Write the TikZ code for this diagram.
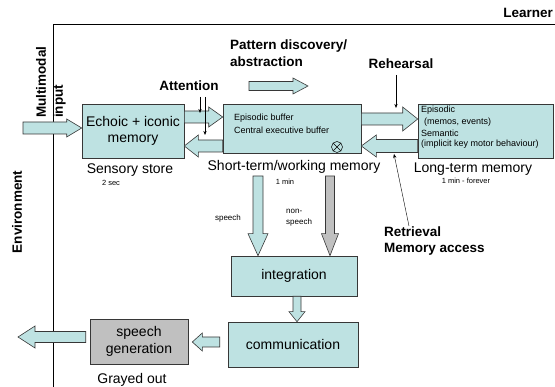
\documentclass[tikz,border=0pt]{standalone}
\usepackage{fontspec}
\setmainfont{Liberation Sans}
\usetikzlibrary{arrows.meta,calc}
\definecolor{cyanfill}{RGB}{190,226,226}
\definecolor{grayfill}{RGB}{192,192,192}
\definecolor{edgecol}{RGB}{55,55,55}
% block arrow: [fill] {from}{to}{half shaft}{half head}{head length}
\newcommand\blockarrow[6][cyanfill]{%
  \draw[edgecol, line width=0.6pt, fill=#1, line join=miter]
    let \p1=(#2), \p2=(#3), \n1={atan2(\y2-\y1,\x2-\x1)}, \n2={veclen(\x2-\x1,\y2-\y1)} in
    [shift={(\p1)}, rotate=\n1]
    (0pt,#4) -- ({\n2-#6},#4) -- ({\n2-#6},#5) -- (\n2,0pt) -- ({\n2-#6},-#5) -- ({\n2-#6},-#4) -- (0pt,-#4) -- cycle;
}
\tikzset{
  box/.style={draw=edgecol, line width=0.6pt, fill=cyanfill, inner sep=0pt, align=center, font=\fontsize{14}{16.5}\selectfont},
  lbl/.style={font=\fontsize{14}{16}\selectfont, inner sep=0pt},
  boldlbl/.style={font=\fontsize{13.5}{16.5}\selectfont\bfseries, inner sep=0pt},
  smalllbl/.style={font=\fontsize{7.5}{9}\selectfont, inner sep=0pt},
  boxtxt/.style={font=\fontsize{9}{11}\selectfont, inner sep=0pt, anchor=west},
  thinarrow/.style={black, line width=0.4pt, -{Stealth[length=4pt,width=3.2pt]}},
}
\begin{document}
\begin{tikzpicture}[x=1pt,y=-1pt]
\useasboundingbox (0,0) rectangle (555,387);
% frame
\coordinate (fb) at (53,387);
\coordinate (fc) at (53,25);
\coordinate (fr) at (555,25);
\draw[black, line width=1pt] (fb) -- (fc) -- (fr);
\node[boldlbl, anchor=east] (learner) at (553,13) {Learner};
\node[boldlbl, rotate=90] (env) at (17,212) {Environment};
\node[boldlbl, rotate=90, anchor=north west, align=left, font=\fontsize{13.5}{17}\selectfont\bfseries] (mmi) at (36,118) {Multimodal\\input};

% boxes
\node[box, minimum width=102pt, minimum height=54pt] (echo) at (133,131) {Echoic + iconic\\memory};
\node[box, minimum width=138pt, minimum height=49pt] (stm) at (292,128.5) {};
\node[box, minimum width=135pt, minimum height=54pt] (ltm) at (485.5,131) {};
\node[box, minimum width=126pt, minimum height=40pt] (integ) at (294,276) {integration};
\node[box, minimum width=130pt, minimum height=45pt] (comm) at (293,344.5) {communication};
\node[box, fill=grayfill, minimum width=98pt, minimum height=45pt] (sgen) at (139,341.5) {speech\\generation};

% texts inside boxes
\node[boxtxt] (eb) at (234,118) {Episodic buffer};
\node[boxtxt] (ceb) at (234,130) {Central executive buffer};
\node[circle, draw=black, line width=0.5pt, minimum size=11pt, inner sep=0pt] (ot) at (337,147) {};
\draw[black, line width=0.5pt] (ot.north west) -- (ot.south east) (ot.north east) -- (ot.south west);
\node[boxtxt] (ltm1) at (421,110) {Episodic};
\node[boxtxt] (ltm2) at (424,122) {(memos, events)};
\node[boxtxt] (ltm3) at (421,133) {Semantic};
\node[boxtxt] (ltm4) at (421,144) {(implicit key motor behaviour)};

% labels
\node[lbl] (sens) at (130,170) {Sensory store};
\node[smalllbl] (sec2) at (111,183) {2 sec};
\node[lbl] (stml) at (294,167) {Short-term/working memory};
\node[smalllbl] (min1) at (285,182) {1 min};
\node[lbl] (ltml) at (473,169) {Long-term memory};
\node[smalllbl] (forever) at (466,181) {1 min - forever};
\node[lbl] (gray) at (132,380) {Grayed out};
\node[smalllbl, font=\fontsize{8}{11}\selectfont] (speechl) at (228,218) {speech};
\node[smalllbl, align=left, anchor=west, font=\fontsize{8}{11}\selectfont] (nonspl) at (286,218) {non-\\speech};
\node[boldlbl, anchor=north west, align=left] (pat) at (230,40) {Pattern discovery/\\abstraction};
\node[boldlbl] (attn) at (189,86) {Attention};
\node[boldlbl] (reh) at (401,64) {Rehearsal};
\node[boldlbl, anchor=north west, align=left, font=\fontsize{13.5}{16}\selectfont\bfseries] (retr) at (384,227) {Retrieval\\Memory access};

% rows
\coordinate (rowA) at (0,117);
\coordinate (rowB) at (0,146);
\coordinate (rowC) at (0,119);
\coordinate (rowD) at (0,146);
\coordinate (rowE) at (0,342);
\coordinate (rowF) at (0,337);
\coordinate (inS) at (23,128);
\coordinate (pat1) at (249,86);
\coordinate (pat2) at (308,86);
\coordinate (spS) at (258,176);
\coordinate (nspS) at (330,176);
\coordinate (icx) at (297,0);
\coordinate (outT) at (18,337);

% block arrows
\blockarrow{inS}{inS -| echo.west}{6pt}{9pt}{15pt}
\blockarrow{echo.east |- rowA}{stm.west |- rowA}{6pt}{10pt}{14pt}
\blockarrow{stm.west |- rowB}{echo.east |- rowB}{6pt}{11pt}{14pt}
\blockarrow{stm.east |- rowC}{ltm.west |- rowC}{6pt}{12pt}{15pt}
\blockarrow{ltm.west |- rowD}{stm.east |- rowD}{6.5pt}{11pt}{15pt}
\blockarrow{pat1}{pat2}{4.5pt}{8pt}{15pt}
\blockarrow{spS}{spS |- integ.north}{5pt}{10pt}{22pt}
\blockarrow[grayfill]{nspS}{nspS |- integ.north}{4.5pt}{8.5pt}{22pt}
\blockarrow{integ.south -| icx}{comm.north -| icx}{4pt}{8pt}{10pt}
\blockarrow{$(comm.west |- rowE)+(-8,0)$}{$(sgen.east |- rowE)+(4,0)$}{5pt}{9pt}{10pt}
\blockarrow{$(sgen.west |- rowF)+(-4,0)$}{outT}{5.5pt}{11pt}{17pt}

% thin arrows
\coordinate (a1s) at (200,97);
\coordinate (a1e) at (200,113);
\coordinate (a2s) at (205,97);
\coordinate (a2e) at (205,135);
\draw[thinarrow] (a1s) -- (a1e);
\draw[thinarrow] (a2s) -- (a2e);
\coordinate (rhs) at (396,75);
\coordinate (rhe) at (396,108);
\draw[thinarrow] (rhs) -- (rhe);
\coordinate (rts) at (409,226);
\coordinate (rte) at (394,154);
\draw[thinarrow] (rts) -- (rte);
\end{tikzpicture}
\end{document}
